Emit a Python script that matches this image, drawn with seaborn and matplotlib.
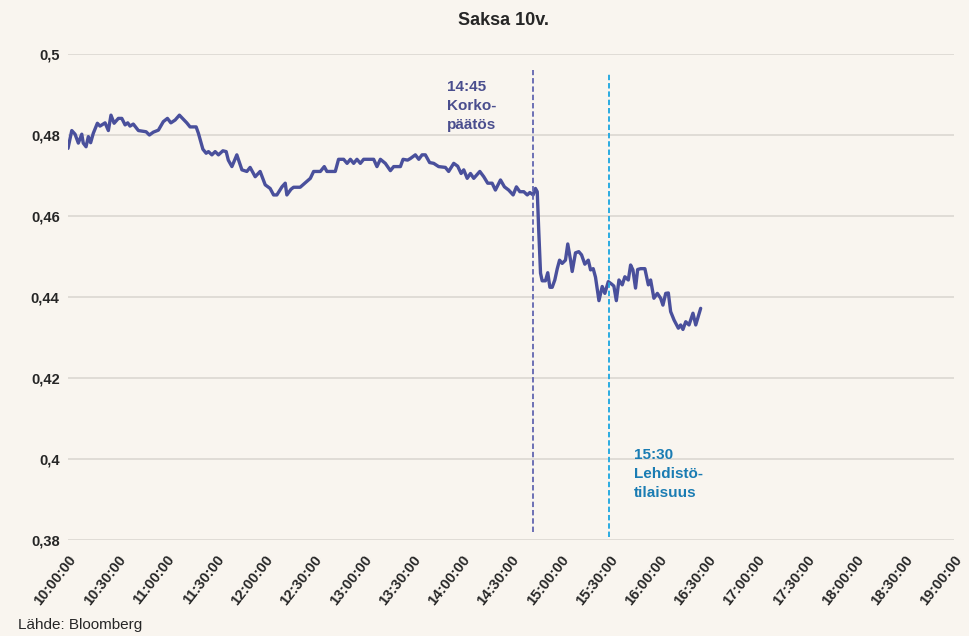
import matplotlib
matplotlib.use("Agg")
import matplotlib.pyplot as plt
import matplotlib.dates as mdates
import numpy as np
import pandas as pd
import seaborn as sns

# minutes after 10:00 and the 10y Bund yield
minutes = [0, 2.3, 4.3, 6.3, 8.4, 9.3, 11.0, 12.4, 13.8, 15.4, 17.9, 19.5, 22.6, 24.6,
           26.2, 28.1, 30.7, 32.8, 34.8, 36.4, 37.8, 39.8, 42.9, 47.6, 49.6, 52.0,
           55.1, 58.1, 60.6, 62.7, 65.3, 67.9, 70.3, 72.4, 74.4, 78.1, 79.5, 82.2,
           84.2, 85.6, 87.7, 89.7, 91.7, 94.4, 96.4, 97.7, 99.9, 102.9, 106.0, 109.0,
           111.0, 114.1, 117.1, 120.2, 123.2, 125.3, 127.3, 130.4, 132.4, 133.4,
           135.9, 137.5, 141.5, 144.6, 147.7, 149.7, 153.8, 156.2, 157.8, 162.9,
           164.9, 168.0, 170.1, 172.1, 174.1, 176.1, 178.2, 180.2, 186.3, 188.3,
           190.4, 193.4, 196.5, 198.5, 202.6, 204.2, 207.0, 208.7, 211.7, 213.8,
           215.8, 217.8, 220.4, 222.9, 225.9, 230.0, 232.0, 235.1, 237.5, 239.6,
           241.2, 243.3, 245.3, 247.3, 251.0, 253.4, 255.8, 258.5, 260.5, 263.6,
           266.0, 268.6, 271.3, 273.3, 275.4, 277.8, 279.9, 281.5, 283.5, 284.9,
           286.0, 286.9, 288.0, 289.0, 291.0, 292.4, 293.7, 295.1, 296.7, 298.2,
           299.6, 301.2, 303.2, 304.6, 306.3, 307.3, 309.3, 311.3, 313.0, 315.0,
           317.1, 318.5, 320.1, 321.5, 323.6, 325.6, 327.2, 329.3, 331.3, 332.7,
           334.2, 335.8, 337.8, 339.4, 341.5, 342.9, 344.3, 345.9, 347.2, 349.0,
           351.6, 353.7, 355.1, 357.1, 359.2, 361.2, 362.6, 364.3, 365.9, 367.3,
           369.4, 372.0, 373.4, 374.8, 376.5, 378.5, 380.9, 382.6, 385.6]
yields = [0.4767, 0.4811, 0.4802, 0.478, 0.4802, 0.478, 0.4771, 0.4796, 0.4781, 0.4804,
          0.4829, 0.4822, 0.483, 0.4811, 0.4849, 0.4829, 0.4841, 0.4841, 0.4825, 0.483,
          0.4822, 0.4827, 0.4811, 0.4808, 0.48, 0.4807, 0.4812, 0.4833, 0.4841, 0.483,
          0.4837, 0.4849, 0.4839, 0.483, 0.482, 0.482, 0.4804, 0.4765, 0.4755, 0.4759,
          0.4751, 0.4759, 0.4751, 0.4761, 0.4759, 0.4738, 0.4722, 0.4751, 0.4714, 0.471,
          0.472, 0.4697, 0.471, 0.4677, 0.4668, 0.4652, 0.4652, 0.4672, 0.4681, 0.4652,
          0.4666, 0.4671, 0.4671, 0.4682, 0.4693, 0.471, 0.471, 0.4722, 0.471, 0.471,
          0.474, 0.474, 0.473, 0.474, 0.473, 0.474, 0.473, 0.474, 0.474, 0.4722,
          0.474, 0.473, 0.4712, 0.4722, 0.4722, 0.474, 0.4738, 0.4742, 0.4751, 0.474,
          0.4751, 0.4751, 0.4732, 0.473, 0.4722, 0.472, 0.471, 0.473, 0.4723, 0.4705,
          0.4714, 0.4693, 0.4705, 0.4693, 0.471, 0.4697, 0.4681, 0.4681, 0.4664, 0.4689,
          0.4672, 0.4664, 0.4652, 0.4672, 0.466, 0.466, 0.4652, 0.4658, 0.4652, 0.4668,
          0.466, 0.4565, 0.4459, 0.444, 0.444, 0.446, 0.4424, 0.4424, 0.4442, 0.447,
          0.4491, 0.4483, 0.4491, 0.4531, 0.4491, 0.4463, 0.4509, 0.4512, 0.4504, 0.4481,
          0.4491, 0.4467, 0.447, 0.4449, 0.4391, 0.4426, 0.4409, 0.4438, 0.4432, 0.4427,
          0.4391, 0.4442, 0.443, 0.445, 0.4442, 0.4479, 0.4467, 0.4422, 0.4468, 0.447,
          0.447, 0.443, 0.4442, 0.4397, 0.4409, 0.4397, 0.438, 0.4409, 0.441, 0.4364,
          0.4343, 0.4323, 0.4331, 0.432, 0.4339, 0.4331, 0.436, 0.4331, 0.4372]

y_ticks = [0.38, 0.40, 0.42, 0.44, 0.46, 0.48, 0.50]
# where the dashed marker lines sit on the time axis
events = ["14:43:30", "15:30:00"]
event_labels = ["14:45\nKorko-\npäätös", "15:30\nLehdistö-\ntilaisuus"]

bg = "#F9F5EF"
sns.set_style("white", {"axes.facecolor": bg, "figure.facecolor": bg})
plt.rcParams['font.family'] = ['Liberation Sans', 'DejaVu Sans']

day = pd.Timestamp("2021-01-01")
start = day + pd.Timedelta(hours=10)
df = pd.DataFrame({"time": start + pd.to_timedelta(minutes, unit="min"),
                   "yield": yields})

fig = plt.figure(figsize=(9.7, 6.36), dpi=100)
ax = fig.add_axes([0.0701, 0.1509, 0.9134, 0.7642])

ax.grid(axis="y", color="#DEDAD4", linewidth=1.3)
ax.set_axisbelow(True)

sns.lineplot(data=df, x="time", y="yield", color="#4A509C", linewidth=2.4, ax=ax)

ev_colors = ["#6266B0", "#1BA6E0"]
txt_colors = ["#4A4E8E", "#1A7CB3"]
ev_span = [(0.016, 0.967), (0.006, 0.961)]
for t, c, (y0, y1) in zip(events, ev_colors, ev_span):
    ax.axvline(pd.Timestamp(f"2021-01-01 {t}"), ymin=y0, ymax=y1, color=c,
               linewidth=1.3, linestyle=(0, (3, 1.6)))

ax.text(start + pd.Timedelta(minutes=231), 0.4935, event_labels[0], color=txt_colors[0],
        fontsize=11, fontweight="bold", va="top", ha="left", linespacing=1.45)
ax.text(start + pd.Timedelta(minutes=345), 0.4027, event_labels[1], color=txt_colors[1],
        fontsize=11, fontweight="bold", va="top", ha="left", linespacing=1.45)

ax.set_xlim(start, start + pd.Timedelta(hours=9))
ax.set_ylim(0.38, 0.5)
ax.set_yticks(y_ticks)
ax.set_yticklabels([f"{round(v, 2):g}".replace(".", ",") for v in y_ticks],
                   fontsize=10.5, fontweight="bold")
ax.xaxis.set_major_locator(mdates.MinuteLocator(byminute=[0, 30]))
ax.xaxis.set_major_formatter(mdates.DateFormatter("%H:%M:%S"))
plt.setp(ax.get_xticklabels(), rotation=52, ha="right", va="top",
         rotation_mode="anchor", fontsize=10.5, fontweight="bold")
ax.tick_params(axis="x", length=0, pad=9)
ax.tick_params(axis="y", length=0, pad=6)
ax.set_xlabel("")
ax.set_ylabel("")
sns.despine(ax=ax, left=True, bottom=True)

fig.text(0.519, 0.968, "Saksa 10v.", ha="center", va="center",
         fontsize=13, fontweight="bold")
fig.text(0.019, 0.017, "Lähde: Bloomberg", ha="left", va="center", fontsize=11)

fig.savefig("out.png", dpi=100, facecolor=bg)
